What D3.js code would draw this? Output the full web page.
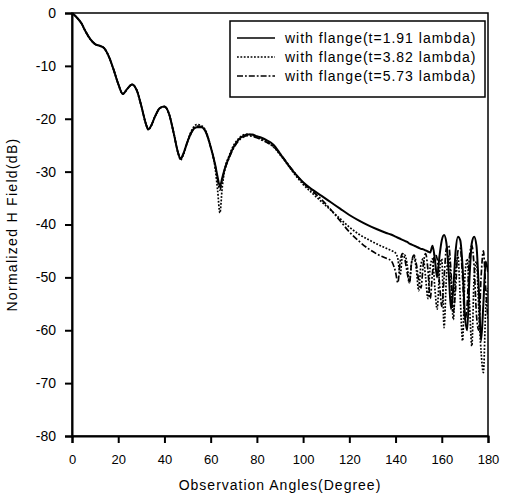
<!DOCTYPE html>
<html>
<head>
<meta charset="utf-8">
<script src="https://cdn.jsdelivr.net/npm/d3@7"></script>
<style>
  html, body { margin: 0; padding: 0; background: #fff; }
  svg { display: block; font-family: "Liberation Sans", Arial, sans-serif; }
</style>
</head>
<body>
<svg id="chart" width="507" height="499"></svg>
<script>
// ---- data ----
const angles = [
  0, 2, 4, 6, 8, 10, 12, 14, 16, 18, 20, 22, 24, 26, 28, 30, 32,
  33, 34,
  36, 38, 40, 42, 44, 46,
  47,
  48, 50, 52, 54, 56, 58, 60, 62,
  63, 64, 65, 66,
  68, 70, 72, 74, 76, 78, 80, 82, 84, 86, 88, 90, 92, 94, 96, 98, 100,
  104, 108, 112, 116, 120, 124, 128, 132, 136,
  138, 140,
  141, 142, 143, 144, 145, 146, 147, 148, 149, 150,
  151, 152, 153, 154, 155, 156, 157, 158, 159, 160,
  161, 162, 163, 164, 165, 166, 167, 168, 169, 170,
  171, 172, 173, 174, 175, 176, 177, 178, 179, 180
];

const flange191 = [
  0, -0.8, -1.9, -3.6, -5.0, -5.9, -6.2, -6.7, -8.3, -10.7, -13.4, -15.3, -14.3, -13.5, -14.6, -17.6, -21.0,
  -22.0, -21.5,
  -19.5, -18.0, -17.7, -19.1, -22.7, -26.6,
  -27.6,
  -26.8, -24.3, -22.3, -21.6, -21.6, -22.6, -25.3, -28.8,
  -31.0, -32.8, -31.2, -29.6,
  -27.2, -25.3, -24.0, -23.3, -23.0, -23.0, -23.3, -23.6, -24.0, -24.5, -25.3, -26.6, -27.8, -29.0, -30.1, -31.1, -32.0,
  -33.4, -34.6, -35.8, -37.0, -38.2, -39.2, -40.1, -40.9, -41.6,
  -41.9, -42.3,
  -42.5, -42.7, -42.9, -43.1, -43.3, -43.6, -43.8, -44.0, -44.2, -44.4,
  -44.6, -44.7, -44.9, -45.1, -45.3, -44.0, -46.5, -50.0, -46.0, -43.0,
  -42.0, -43.5, -49.0, -56.0, -52.0, -45.0, -42.3, -43.0, -48.0, -57.0,
  -60.0, -50.0, -43.5, -42.3, -44.0, -52.0, -62.0, -55.0, -47.0, -49.0
];

const flange382 = [
  0, -0.8, -1.9, -3.6, -5.0, -5.9, -6.2, -6.7, -8.3, -10.7, -13.4, -15.3, -14.3, -13.5, -14.6, -17.6, -21.0,
  -22.1, -21.6,
  -19.5, -18.0, -17.7, -19.1, -22.7, -26.6,
  -27.8,
  -27.0, -24.2, -22.0, -21.1, -21.3, -22.4, -25.3, -29.5,
  -33.5, -37.8, -33.0, -29.8,
  -27.0, -25.0, -23.8, -23.1, -22.9, -23.1, -23.5, -23.9, -24.3, -24.9, -25.7, -26.8, -27.9, -29.1, -30.3, -31.4, -32.4,
  -34.1, -35.7, -37.3, -38.9, -40.5, -41.8, -42.8, -43.7, -44.5,
  -44.9, -45.4,
  -46.5, -49.5, -46.0, -45.8, -47.5, -51.0, -47.0, -46.2, -48.5, -52.5,
  -47.5, -46.5, -50.0, -54.0, -48.0, -46.5, -52.0, -56.0, -49.0, -46.5,
  -59.5, -50.0, -46.0, -51.0, -58.0, -49.0, -46.0, -54.0, -62.0, -50.0,
  -46.5, -55.0, -63.0, -50.0, -47.0, -56.0, -64.0, -68.0, -56.0, -52.0
];

const flange573 = [
  0, -0.8, -1.9, -3.6, -5.0, -5.9, -6.2, -6.7, -8.3, -10.7, -13.4, -15.3, -14.3, -13.5, -14.6, -17.6, -21.0,
  -22.0, -21.5,
  -19.5, -18.0, -17.7, -19.1, -22.7, -26.6,
  -27.6,
  -26.9, -24.4, -22.4, -21.4, -21.5, -22.6, -25.4, -29.0,
  -31.5, -33.5, -31.6, -29.8,
  -27.4, -25.5, -24.2, -23.5, -23.2, -23.3, -23.6, -24.0, -24.4, -24.9, -25.6, -26.6, -27.7, -28.9, -30.0, -31.1, -32.1,
  -33.7, -35.3, -37.2, -39.3, -41.4, -43.1, -44.5, -45.6, -46.4,
  -46.8, -49.0,
  -51.0, -47.0, -45.5, -46.5, -49.0, -51.0, -47.0, -45.8, -47.5, -50.5,
  -52.0, -47.5, -45.5, -48.5, -54.0, -49.0, -45.5, -46.5, -51.0, -55.5,
  -50.0, -44.5, -44.0, -49.0, -56.5, -52.0, -45.0, -44.5, -50.0, -58.0,
  -55.0, -46.0, -44.0, -48.0, -57.0, -60.0, -50.0, -45.0, -52.0, -58.0
];

const seriesNames = ["with flange(t=1.91 lambda)", "with flange(t=3.82 lambda)", "with flange(t=5.73 lambda)"];
const xTicks = [0, 20, 40, 60, 80, 100, 120, 140, 160, 180];
const yTicks = [0, -10, -20, -30, -40, -50, -60, -70, -80];
const xTitle = "Observation Angles(Degree)";
const yTitle = "Normalized H Field(dB)";

// ---- layout ----
const L = 72, R = 488, T = 13, B = 436;
const svg = d3.select("#chart");
const x = d3.scaleLinear().domain([0, 180]).range([L, R]);
const y = d3.scaleLinear().domain([-80, 0]).range([B, T]);

svg.append("defs").append("clipPath").attr("id", "clip")
  .append("rect").attr("x", L).attr("y", T).attr("width", R - L).attr("height", B - T);

const styles = [
  { dash: null, width: 2 },
  { dash: "1.8,1.6", width: 1.7 },
  { dash: "6,2,1.8,2", width: 1.7 }
];
const data = [flange191, flange382, flange573];

const line = d3.line()
  .x((d) => x(d[0]))
  .y((d) => y(d[1]))
  .curve(d3.curveMonotoneX);

const g = svg.append("g").attr("clip-path", "url(#clip)");
[2, 1, 0].forEach((i) => {
  const pts = angles.map((a, k) => [a, data[i][k]]);
  g.append("path")
    .attr("d", line(pts))
    .attr("fill", "none")
    .attr("stroke", "#000")
    .attr("stroke-width", styles[i].width)
    .attr("stroke-dasharray", styles[i].dash)
    .attr("stroke-linejoin", "round");
});

// frame
svg.append("rect").attr("x", L).attr("y", T).attr("width", R - L).attr("height", B - T)
  .attr("fill", "none").attr("stroke", "#000").attr("stroke-width", 1.5);

// axes
const xAxis = d3.axisBottom(x).tickValues(xTicks).tickSize(7).tickPadding(12)
  .tickFormat((d) => String(d));
const gx = svg.append("g").attr("transform", `translate(0,${B})`).call(xAxis);
gx.select(".domain").attr("stroke-width", 2);
gx.selectAll(".tick line").attr("stroke-width", 2);
gx.selectAll("text").attr("font-size", 13).attr("font-family", "Liberation Sans, Arial, sans-serif").attr("fill", "#000");

const yAxis = d3.axisLeft(y).tickValues(yTicks).tickSize(7).tickPadding(9)
  .tickFormat((d) => String(d));
const gy = svg.append("g").attr("transform", `translate(${L},0)`).call(yAxis);
gy.select(".domain").attr("stroke-width", 2);
gy.selectAll(".tick line").attr("stroke-width", 2);
gy.selectAll("text").attr("font-size", 14).attr("font-family", "Liberation Sans, Arial, sans-serif").attr("fill", "#000");

// axis titles
svg.append("text")
  .attr("x", (L + R) / 2).attr("y", 490)
  .attr("text-anchor", "middle")
  .attr("font-size", 14).attr("letter-spacing", 1)
  .text(xTitle);

svg.append("text")
  .attr("transform", `translate(17,${(T + B) / 2}) rotate(-90)`)
  .attr("text-anchor", "middle")
  .attr("font-size", 14).attr("letter-spacing", 1.3)
  .text(yTitle);

// legend
const lg = svg.append("g");
lg.append("rect").attr("x", 230).attr("y", 21).attr("width", 255).attr("height", 76)
  .attr("fill", "#fff").attr("stroke", "#000").attr("stroke-width", 1.5);
seriesNames.forEach((name, i) => {
  const cy = 38 + i * 19;
  lg.append("line").attr("x1", 237).attr("x2", 275).attr("y1", cy).attr("y2", cy)
    .attr("stroke", "#000").attr("stroke-width", styles[i].width - 0.3)
    .attr("stroke-dasharray", styles[i].dash);
  lg.append("text").attr("x", 285).attr("y", cy + 5)
    .attr("font-size", 14).attr("letter-spacing", 1)
    .text(name);
});
</script>
</body>
</html>
